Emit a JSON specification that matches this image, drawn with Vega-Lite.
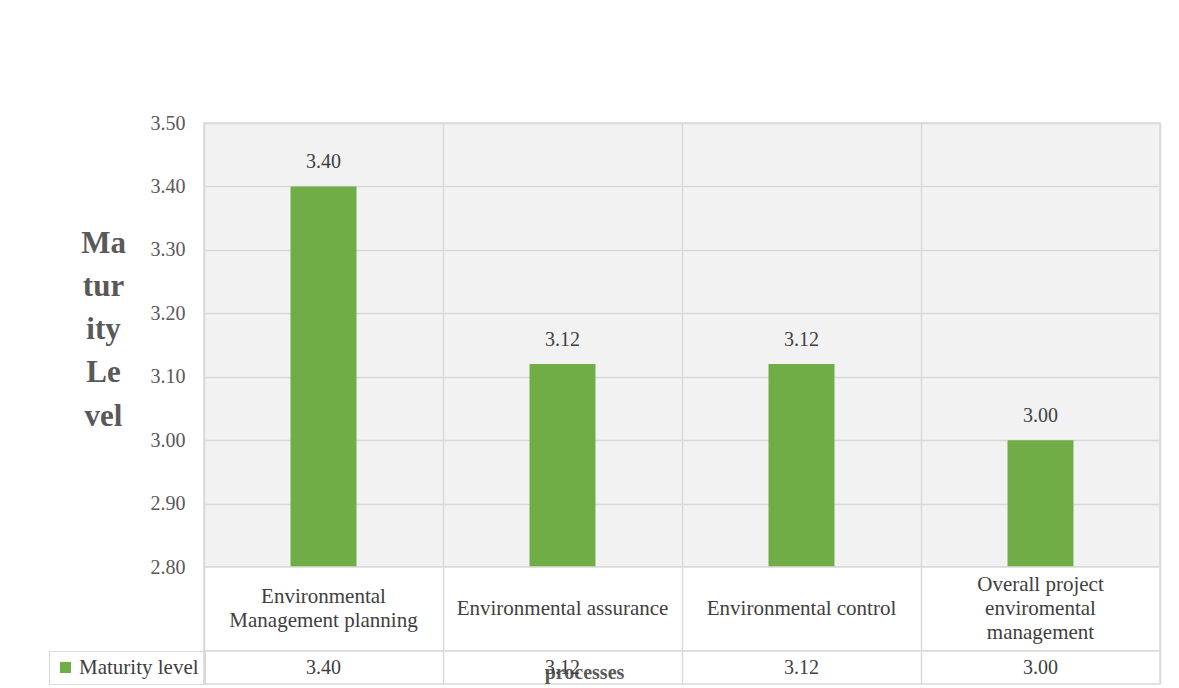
{
  "$schema": "https://vega.github.io/schema/vega-lite/v6.json",
  "padding": {"left": 48, "top": 112, "right": 20, "bottom": 5},
  "background": "white",
  "bounds": "flush",
  "spacing": 0,
  "data": {"values": [
    {"category": "Environmental Management planning", "label": "Environmental\nManagement planning", "value": 3.40, "series": "Maturity level"},
    {"category": "Environmental assurance", "label": "Environmental assurance", "value": 3.12, "series": "Maturity level"},
    {"category": "Environmental control", "label": "Environmental control", "value": 3.12, "series": "Maturity level"},
    {"category": "Overall project enviromental management", "label": "Overall project\nenviromental\nmanagement", "value": 3.00, "series": "Maturity level"}
  ]},
  "config": {
    "font": "Liberation Serif",
    "view": {"stroke": "#d9d9d9", "strokeWidth": 1.5}
  },
  "vconcat": [
    {
      "width": 956,
      "height": 444,
      "view": {"fill": "#f2f2f2", "stroke": "#d9d9d9", "strokeWidth": 1.5},
      "encoding": {
        "x": {"field": "category", "type": "nominal", "sort": null,
          "scale": {"paddingInner": 0, "paddingOuter": 0},
          "axis": {"labels": false, "ticks": false, "domain": false, "title": null, "grid": true, "tickBand": "extent", "gridColor": "#d9d9d9", "gridWidth": 1.5}}
      },
      "layer": [
        {
          "mark": {"type": "bar", "width": {"band": 0.276}, "clip": true},
          "encoding": {
            "y": {"field": "value", "type": "quantitative",
              "scale": {"domain": [2.8, 3.5], "zero": false, "nice": false},
              "axis": {"values": [2.8, 2.9, 3.0, 3.1, 3.2, 3.3, 3.4, 3.5], "format": ".2f",
                "labelFont": "Liberation Serif", "labelFontSize": 20, "labelColor": "#595959", "labelPadding": 19,
                "ticks": false, "domain": false, "grid": true, "gridColor": "#d9d9d9", "gridWidth": 1.5,
                "title": ["Ma", "tur", "ity", "Le", "vel"], "titleAngle": 0, "titleFont": "Liberation Serif", "titleFontSize": 31,
                "titleFontWeight": "bold", "titleColor": "#595959", "titleLineHeight": 43.3, "titleAlign": "center",
                "titleBaseline": "top", "titleX": -101, "titleY": 105}},
            "color": {"field": "series", "type": "nominal", "scale": {"range": ["#70ad47"]},
              "legend": {"orient": "none", "legendX": -155, "legendY": 528, "title": null, "symbolType": "square", "symbolSize": 121,
                "symbolStrokeWidth": 0, "labelFont": "Liberation Serif", "labelFontSize": 21, "labelColor": "#404040",
                "strokeColor": "#d9d9d9", "padding": 6, "labelOffset": 3}}
          }
        },
        {
          "mark": {"type": "text", "dy": -24, "baseline": "middle", "fontSize": 20, "color": "#404040", "font": "Liberation Serif"},
          "encoding": {
            "y": {"field": "value", "type": "quantitative"},
            "text": {"field": "value", "type": "quantitative", "format": ".2f"}
          }
        }
      ]
    },
    {
      "width": 956,
      "height": 84,
      "view": {"fill": "white", "stroke": "#d9d9d9", "strokeWidth": 1.5},
      "encoding": {
        "x": {"field": "category", "type": "nominal", "sort": null,
          "scale": {"paddingInner": 0, "paddingOuter": 0,
            "domain": ["Environmental Management planning", "Environmental assurance", "Environmental control", "Overall project enviromental management"]},
          "axis": {"labels": false, "ticks": false, "domain": false, "title": null, "grid": true, "tickBand": "extent", "gridColor": "#d9d9d9", "gridWidth": 1.5}},
        "text": {"field": "label"}
      },
      "layer": [
        {
          "transform": [{"filter": "length(split(datum.label, '\\n')) == 1"}],
          "mark": {"type": "text", "lineBreak": "\n", "lineHeight": 24, "fontSize": 21, "color": "#404040", "font": "Liberation Serif", "baseline": "middle", "dy": 0}
        },
        {
          "transform": [{"filter": "length(split(datum.label, '\\n')) == 2"}],
          "mark": {"type": "text", "lineBreak": "\n", "lineHeight": 24, "fontSize": 21, "color": "#404040", "font": "Liberation Serif", "baseline": "middle", "dy": -12}
        },
        {
          "transform": [{"filter": "length(split(datum.label, '\\n')) == 3"}],
          "mark": {"type": "text", "lineBreak": "\n", "lineHeight": 24, "fontSize": 21, "color": "#404040", "font": "Liberation Serif", "baseline": "middle", "dy": -24}
        }
      ]
    },
    {
      "width": 956,
      "height": 33,
      "view": {"fill": "white", "stroke": "#d9d9d9", "strokeWidth": 1.5},
      "mark": {"type": "text", "fontSize": 20, "color": "#404040", "font": "Liberation Serif", "baseline": "middle"},
      "encoding": {
        "x": {"field": "category", "type": "nominal", "sort": null,
          "scale": {"paddingInner": 0, "paddingOuter": 0},
          "axis": {"labels": false, "ticks": false, "domain": false, "grid": true, "tickBand": "extent", "gridColor": "#d9d9d9", "gridWidth": 1.5,
            "title": "processes", "titleFont": "Liberation Serif", "titleFontSize": 20, "titleFontWeight": "bold", "titleColor": "#595959",
            "titleX": 380, "titleY": -12, "titleBaseline": "middle", "titleAlign": "center", "titleAnchor": null}},
        "text": {"field": "value", "type": "quantitative", "format": ".2f"}
      }
    }
  ]
}
